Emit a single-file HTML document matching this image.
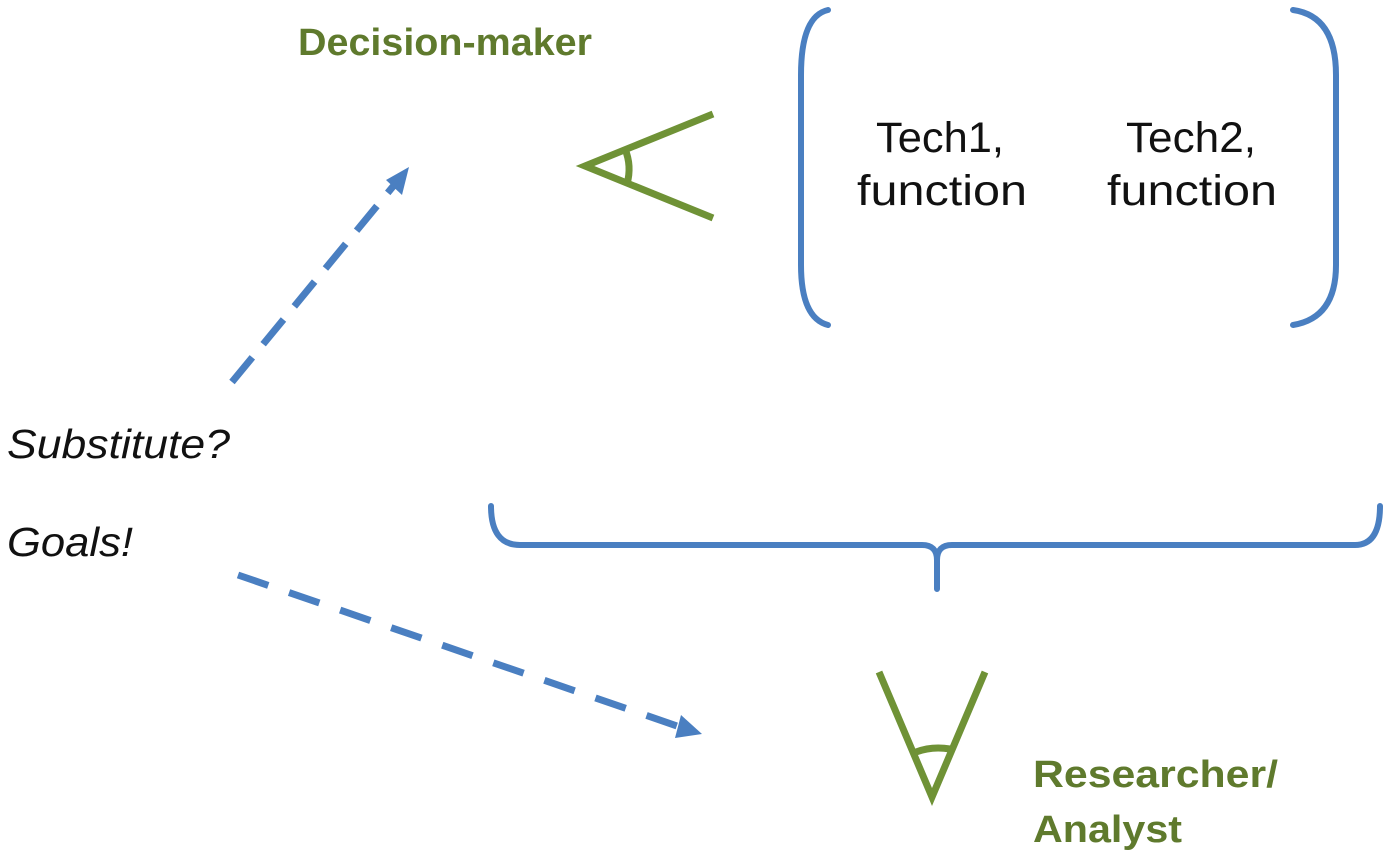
<!DOCTYPE html>
<html><head><meta charset="utf-8"><style>html,body{margin:0;padding:0;background:#fff}svg{display:block}</style></head>
<body>
<svg width="1400" height="862" viewBox="0 0 1400 862" xmlns="http://www.w3.org/2000/svg">
<g fill="none" stroke="#4a7fc1" stroke-width="6" stroke-linecap="round">
<path d="M828 10 Q801 16 801 75 L801 265 Q801 318 828 325"/>
<path d="M1293 10 Q1336 16 1336 75 L1336 265 Q1336 318 1293 325"/>
<path d="M491 506 Q491 545 520 545 L922 545 Q937 545 937 560 L937 589"/>
<path d="M937 560 Q937 545 952 545 L1355 545 Q1380 545 1380 506"/>
</g>
<g stroke="#4a7fc1" stroke-width="7">
<line x1="232" y1="382" x2="395" y2="184" stroke-dasharray="32 17"/>
<line x1="238" y1="575" x2="680" y2="727" stroke-dasharray="32 22"/>
</g>
<polygon points="409,167 386,180 402,195" fill="#4a7fc1"/>
<polygon points="702,734 681,715 675,738" fill="#4a7fc1"/>
<g fill="none" stroke="#6f9236" stroke-width="7" stroke-linecap="butt">
<path d="M713 114 L585 166 L713 218"/>
<path d="M625 149 Q632 166 627 184"/>
<path d="M879 672 L932 797 L985 672"/>
<path d="M916 752 Q932 746 950 749"/>
</g>
<g font-family="Liberation Sans, sans-serif">
<text x="298" y="55" font-size="38" font-weight="bold" fill="#5f7a2d" textLength="294" lengthAdjust="spacingAndGlyphs">Decision-maker</text>
<text x="1033" y="787" font-size="38" font-weight="bold" fill="#5f7a2d" textLength="245" lengthAdjust="spacingAndGlyphs">Researcher/</text>
<text x="1033" y="842" font-size="38" font-weight="bold" fill="#5f7a2d" textLength="149" lengthAdjust="spacingAndGlyphs">Analyst</text>
<g font-size="43" fill="#111">
<text x="876" y="152" textLength="128" lengthAdjust="spacingAndGlyphs">Tech1,</text>
<text x="857" y="205" textLength="170" lengthAdjust="spacingAndGlyphs">function</text>
<text x="1126" y="152" textLength="130" lengthAdjust="spacingAndGlyphs">Tech2,</text>
<text x="1107" y="205" textLength="170" lengthAdjust="spacingAndGlyphs">function</text>
</g>
<g font-size="41" font-style="italic" fill="#111">
<text x="7" y="458" textLength="223" lengthAdjust="spacingAndGlyphs">Substitute?</text>
<text x="7" y="556" textLength="126" lengthAdjust="spacingAndGlyphs">Goals!</text>
</g>
</g>
</svg>
</body></html>
